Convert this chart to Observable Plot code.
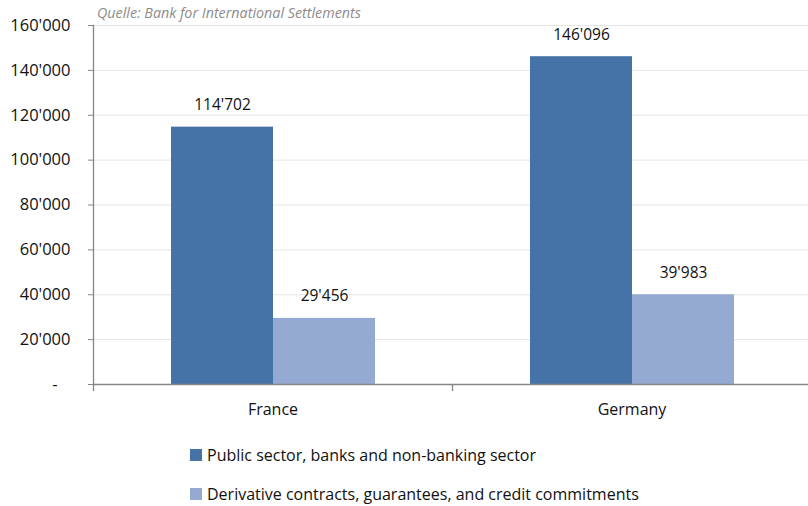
<!DOCTYPE html>
<html>
<head>
<meta charset="utf-8">
<script src="https://cdn.jsdelivr.net/npm/d3@7"></script>
<script src="https://cdn.jsdelivr.net/npm/@observablehq/plot@0.6"></script>
<style>
  body { margin: 0; background: #fff; font-family: "Open Sans", sans-serif; }
  #wrap { position: relative; width: 808px; }
  #source { position: absolute; left: 97px; top: 3px; font-size: 14.3px; font-style: italic; color: #8c8c8c; }
  #legend { margin-left: 190px; margin-top: 5px; font-size: 16px; color: #111; }
  .item { display: flex; align-items: center; height: 39px; }
  .sw { width: 12px; height: 12px; margin-right: 5px; }
</style>
</head>
<body>
<div id="wrap">
  <div id="chart"></div>
  <div id="source">Quelle: Bank for International Settlements</div>
  <div id="legend"></div>
</div>
<script>
const countries = ["France", "Germany"];
const series = ["Public sector, banks and non-banking sector", "Derivative contracts, guarantees, and credit commitments"];
const publicValues = [114702, 146096];
const derivativeValues = [29456, 39983];
const colors = ["#4573a7", "#95aad2"];
const yTicks = [0, 20000, 40000, 60000, 80000, 100000, 120000, 140000, 160000];

const rows = [];
countries.forEach((c, i) => {
  rows.push({country: c, series: series[0], value: publicValues[i]});
  rows.push({country: c, series: series[1], value: derivativeValues[i]});
});

const fmt = v => d3.format(",")(v).replace(/,/g, "'");

const chart = Plot.plot({
  width: 808,
  height: 430,
  marginTop: 25,
  marginBottom: 46,
  marginLeft: 93,
  marginRight: -3,
  style: {fontFamily: "'Open Sans', sans-serif", fontSize: "16px", color: "#111", overflow: "visible"},
  fx: {domain: countries, padding: 0, label: null},
  x: {domain: series, paddingInner: 0, paddingOuter: 0.75, axis: null},
  y: {domain: [0, 160000], label: null},
  color: {domain: series, range: colors},
  marks: [
    Plot.gridY(yTicks, {stroke: "#e4e4e4", strokeOpacity: 1}),
    Plot.barY(rows, {fx: "country", x: "series", y: "value", fill: "series"}),
    Plot.text(rows, {fx: "country", x: "series", y: "value", text: d => fmt(d.value), dy: -22, fontSize: 15.5, fill: "#111"}),
    Plot.ruleY([0], {stroke: "#868686", strokeWidth: 1.3}),
    Plot.frame({anchor: "left", fx: () => "France", stroke: "#868686", strokeWidth: 1.3}),
    Plot.frame({anchor: "left", stroke: "#868686", strokeWidth: 1.3, insetTop: 359, insetBottom: -6}),
    Plot.axisY(yTicks, {tickSize: 5, tickPadding: 18, stroke: "#868686", tickFormat: d => d === 0 ? "-\u00a0\u00a0\u00a0" : fmt(d), fill: "#111", fontSize: 16.5, label: null}),
    Plot.axisFx({anchor: "bottom", tickSize: 0, tickPadding: 19, fontSize: 16, fill: "#111", label: null})
  ]
});
document.getElementById("chart").appendChild(chart);

const legend = document.getElementById("legend");
series.forEach((s, i) => {
  const item = document.createElement("div");
  item.className = "item";
  const sw = document.createElement("span");
  sw.className = "sw";
  sw.style.background = colors[i];
  const t = document.createElement("span");
  t.textContent = s;
  item.appendChild(sw);
  item.appendChild(t);
  legend.appendChild(item);
});
</script>
</body>
</html>
